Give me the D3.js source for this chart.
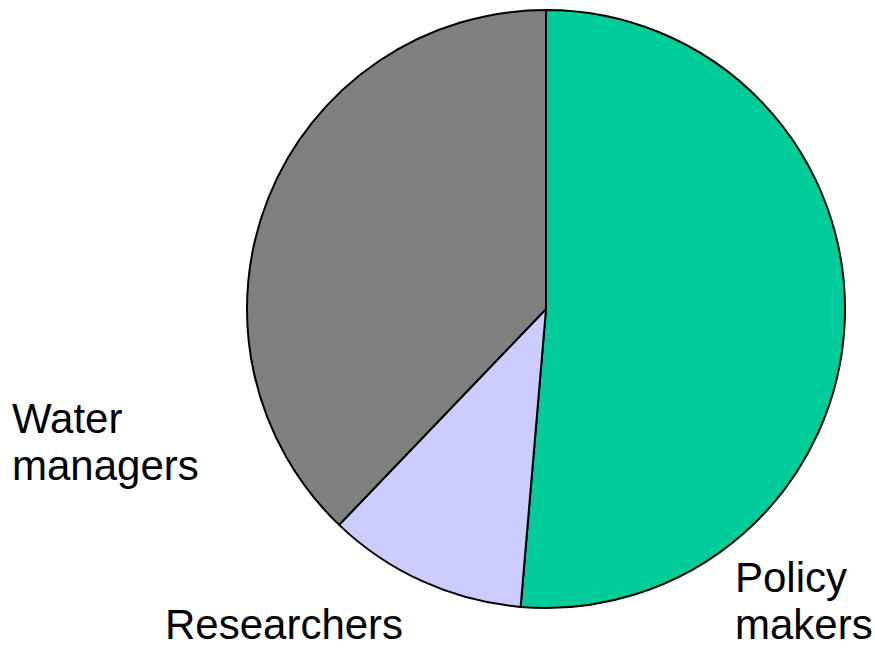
<!DOCTYPE html>
<html>
<head>
<meta charset="utf-8">
<script src="https://cdn.jsdelivr.net/npm/d3@7"></script>
<style>
  html, body { margin: 0; padding: 0; background: #fff; }
  svg { display: block; }
  text { font-family: "Liberation Sans", Arial, sans-serif; fill: #000; }
</style>
</head>
<body>
<svg id="chart" width="875" height="648"></svg>
<script>
// Data
const categories = ["Policy makers", "Researchers", "Water managers"];
const values = [19, 4, 14];
const colors = ["#00CC99", "#CCCCFF", "#808080"];
const labelLines = [["Policy", "makers"], ["Researchers"], ["Water", "managers"]];

// Layout
const cx = 546, cy = 309, r = 299;
const labelPos = [
  { x: 735, y: 592 },
  { x: 165, y: 639 },
  { x: 12, y: 433 }
];
const lineHeight = 46.5;
const fontSize = 42;

const svg = d3.select("#chart");
const data = categories.map((c, i) => ({ name: c, value: values[i], color: colors[i], lines: labelLines[i] }));

const pie = d3.pie().value(d => d.value).sort(null);
const arc = d3.arc().innerRadius(0).outerRadius(r);

const g = svg.append("g").attr("transform", `translate(${cx},${cy})`);
g.selectAll("path")
  .data(pie(data))
  .join("path")
  .attr("d", arc)
  .attr("fill", d => d.data.color)
  .attr("stroke", "#000")
  .attr("stroke-width", 2)
  .attr("stroke-linejoin", "round");

data.forEach((d, i) => {
  const t = svg.append("text")
    .attr("x", labelPos[i].x)
    .attr("y", labelPos[i].y)
    .style("font-size", fontSize + "px");
  d.lines.forEach((ln, j) => {
    t.append("tspan")
      .attr("x", labelPos[i].x)
      .attr("dy", j === 0 ? 0 : lineHeight)
      .text(ln);
  });
});
</script>
</body>
</html>
